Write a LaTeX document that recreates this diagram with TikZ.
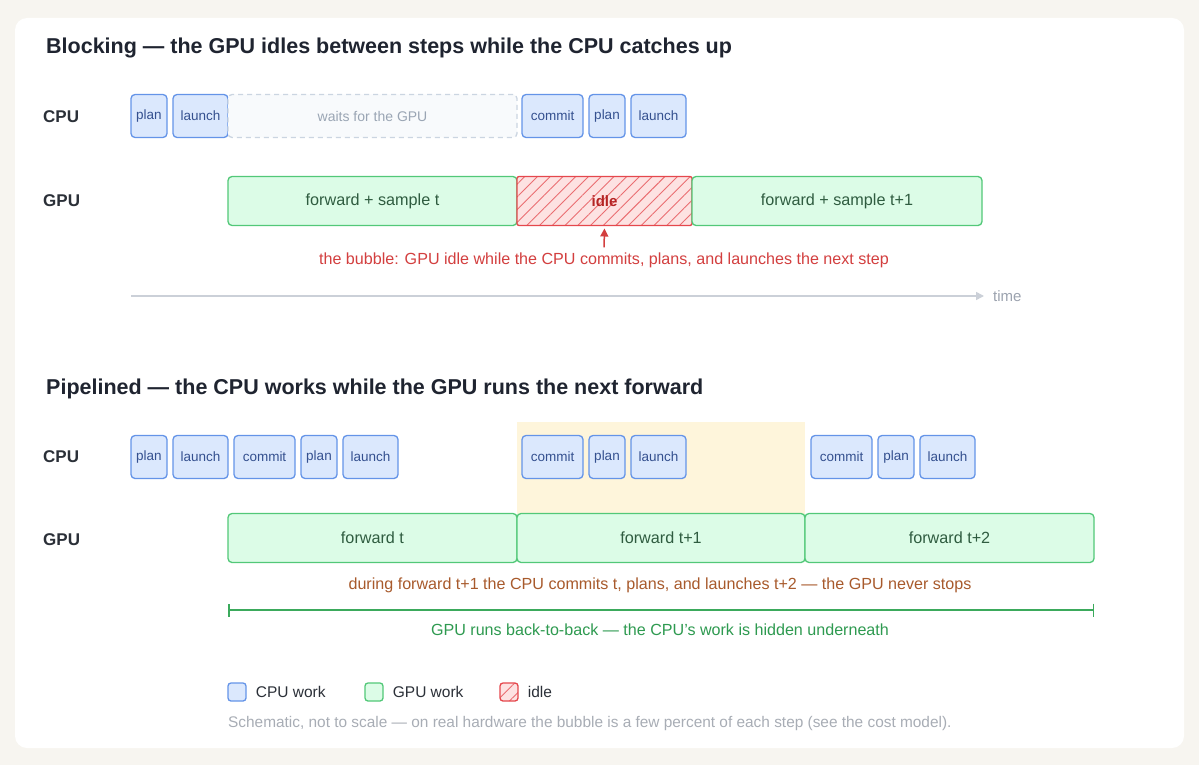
\documentclass[tikz,border=0pt]{standalone}
\usepackage{fontspec}
\setmainfont{Liberation Sans}
\usepackage{tikz}
\usetikzlibrary{positioning,arrows.meta,patterns.meta}
\definecolor{pagebg}{HTML}{F7F5F0}
\definecolor{cpufill}{HTML}{DBE8FD}
\definecolor{cpuline}{HTML}{6494E8}
\definecolor{cputext}{HTML}{34508F}
\definecolor{gpufill}{HTML}{DCFCE7}
\definecolor{gpuline}{HTML}{52C878}
\definecolor{gputext}{HTML}{2F5C40}
\definecolor{idlefill}{HTML}{FDE2E2}
\definecolor{idleline}{HTML}{E5484D}
\definecolor{idletext}{HTML}{B42323}
\definecolor{bubblered}{HTML}{D33F3F}
\definecolor{notebrown}{HTML}{A85A2C}
\definecolor{spangreen}{HTML}{3BAA5C}
\definecolor{spantext}{HTML}{2E9A50}
\definecolor{hilite}{HTML}{FEF5DB}
\definecolor{waitfill}{HTML}{F8FAFC}
\definecolor{waitline}{HTML}{CBD5E1}
\definecolor{waittext}{HTML}{9AA5B4}
\definecolor{axisgrey}{HTML}{CBD0D8}
\definecolor{timegrey}{HTML}{9CA3AF}
\definecolor{titleink}{HTML}{1F2430}
\definecolor{laneink}{HTML}{2B3038}
\definecolor{footgrey}{HTML}{A8ADB5}
\tikzstyle{title} = [anchor=base west, inner sep=0pt, text=titleink, font=\bfseries\fontsize{21.5}{25}\selectfont]
\tikzstyle{lane} = [anchor=west, inner sep=0pt, text=laneink, font=\bfseries\fontsize{17}{20}\selectfont]
\tikzstyle{cpubox} = [rectangle, rounded corners=4pt, minimum width=36pt, minimum height=43pt, inner sep=0pt, outer sep=0pt, line width=1.3pt, draw=cpuline, fill=cpufill, text=cputext, font=\fontsize{13.5}{16}\selectfont]
\tikzstyle{waitbox} = [cpubox, dashed, dash pattern=on 5pt off 4pt, draw=waitline, fill=waitfill, text=waittext, minimum width=289pt, font=\fontsize{14}{17}\selectfont]
\tikzstyle{gpubox} = [rectangle, rounded corners=4pt, minimum width=289pt, minimum height=49pt, inner sep=0pt, outer sep=0pt, line width=1.3pt, draw=gpuline, fill=gpufill, text=gputext, font=\fontsize{16.2}{19}\selectfont]
\tikzstyle{idlebox} = [gpubox, rounded corners=2pt, minimum width=175pt, draw=idleline, preaction={fill=idlefill}, pattern={Lines[angle=45,distance=9pt,line width=0.9pt]}, pattern color=idleline!80, text=idletext, font=\bfseries\fontsize{15}{18}\selectfont]
\tikzstyle{remark} = [inner sep=1pt, font=\fontsize{16.1}{19}\selectfont]
\tikzstyle{legsq} = [rectangle, rounded corners=3pt, minimum size=18pt, inner sep=0pt, line width=1.3pt]
\tikzstyle{legtxt} = [inner sep=0pt, text=laneink, font=\fontsize{15.5}{18}\selectfont]
\tikzstyle{arrow} = [line width=1.5pt, -{Triangle[length=8pt,width=8pt]}]

\begin{document}
\begin{tikzpicture}[x=1pt, y=-1pt, node distance=6pt]
\fill[pagebg] (0,0) rectangle (1199,765);
\fill[white, rounded corners=12pt] (15,18) rectangle (1184,748);

\node (titlea) [title] at (46,54) {Blocking — the GPU idles between steps while the CPU catches up};
\node (cpua) [lane] at (43,117) {CPU};
\node (gpua) [lane] at (43,201) {GPU};
\node (plana) [cpubox, anchor=west] at (131,116) {plan};
\node (launcha) [cpubox, right=of plana, minimum width=55pt] {launch};
\node (waits) [waitbox, right=0pt of launcha] {waits for the GPU};
\node (commitb) [cpubox, right=5pt of waits, minimum width=61pt] {commit};
\node (planb) [cpubox, right=of commitb] {plan};
\node (launchb) [cpubox, right=of planb, minimum width=55pt] {launch};
\node (fwda) [gpubox, anchor=west] at (228,201) {forward + sample t};
\node (idle) [idlebox, right=0pt of fwda] {idle};
\node (fwdb) [gpubox, right=0pt of idle, minimum width=290pt] {forward + sample t+1};
\node (bubble) [remark, text=bubblered] at (604,260) {the bubble: GPU idle while the CPU commits, plans, and launches the next step};
\draw [arrow, bubblered, shorten <=4pt, shorten >=3pt] (bubble.north) -- (idle.south);
\coordinate (tstart) at (131,296);
\node (timelbl) [remark, anchor=west, text=timegrey, font=\fontsize{15}{18}\selectfont] at (992,296) {time};
\draw [line width=1.5pt, axisgrey, -{Triangle[length=8pt,width=8pt]}, shorten >=8pt] (tstart) -- (timelbl.west);

\node (titleb) [title] at (46,394) {Pipelined — the CPU works while the GPU runs the next forward};
\node (window) [fill=hilite, minimum width=288pt, minimum height=92pt, inner sep=0pt, anchor=north west] at (517,422) {};
\node (cpub) [lane] at (43,457) {CPU};
\node (gpub) [lane] at (43,540) {GPU};
\node (planc) [cpubox, anchor=west] at (131,457) {plan};
\node (launchc) [cpubox, right=of planc, minimum width=55pt] {launch};
\node (commitc) [cpubox, right=of launchc, minimum width=61pt] {commit};
\node (pland) [cpubox, right=of commitc] {plan};
\node (launchd) [cpubox, right=of pland, minimum width=55pt] {launch};
\node (commitd) [cpubox, anchor=west, minimum width=61pt] at (522,457) {commit};
\node (plane) [cpubox, right=of commitd] {plan};
\node (launche) [cpubox, right=of plane, minimum width=55pt] {launch};
\node (commite) [cpubox, anchor=west, minimum width=61pt] at (811,457) {commit};
\node (planf) [cpubox, right=of commite] {plan};
\node (launchf) [cpubox, right=of planf, minimum width=55pt] {launch};
\node (fwdc) [gpubox, anchor=west] at (228,538) {forward t};
\node (fwdd) [gpubox, right=0pt of fwdc, minimum width=288pt] {forward t+1};
\node (fwde) [gpubox, right=0pt of fwdd] {forward t+2};
\node (during) [remark, text=notebrown] at (660,585) {during forward t+1 the CPU commits t, plans, and launches t+2 — the GPU never stops};
\coordinate (spana) at (228,610);
\coordinate (spanb) at (1094,610);
\draw [line width=1.5pt, spangreen, {Bar[width=13pt]}-{Bar[width=13pt]}] (spana) -- (spanb);
\node (hidden) [remark, text=spantext] at (660,630) {GPU runs back-to-back — the CPU's work is hidden underneath};

\node (legcpu) [legsq, draw=cpuline, fill=cpufill] at (237,692) {};
\node (legcputxt) [legtxt, right=9pt of legcpu] {CPU work};
\node (leggpu) [legsq, draw=gpuline, fill=gpufill] at (374,692) {};
\node (leggputxt) [legtxt, right=9pt of leggpu] {GPU work};
\node (legidle) [legsq, draw=idleline, preaction={fill=idlefill}, pattern={Lines[angle=45,distance=9pt,line width=0.9pt]}, pattern color=idleline!80] at (509,692) {};
\node (legidletxt) [legtxt, right=9pt of legidle] {idle};
\node (foot) [remark, anchor=west, text=footgrey, font=\fontsize{15.4}{18}\selectfont] at (227,724) {Schematic, not to scale — on real hardware the bubble is a few percent of each step (see the cost model).};
\end{tikzpicture}
\end{document}
